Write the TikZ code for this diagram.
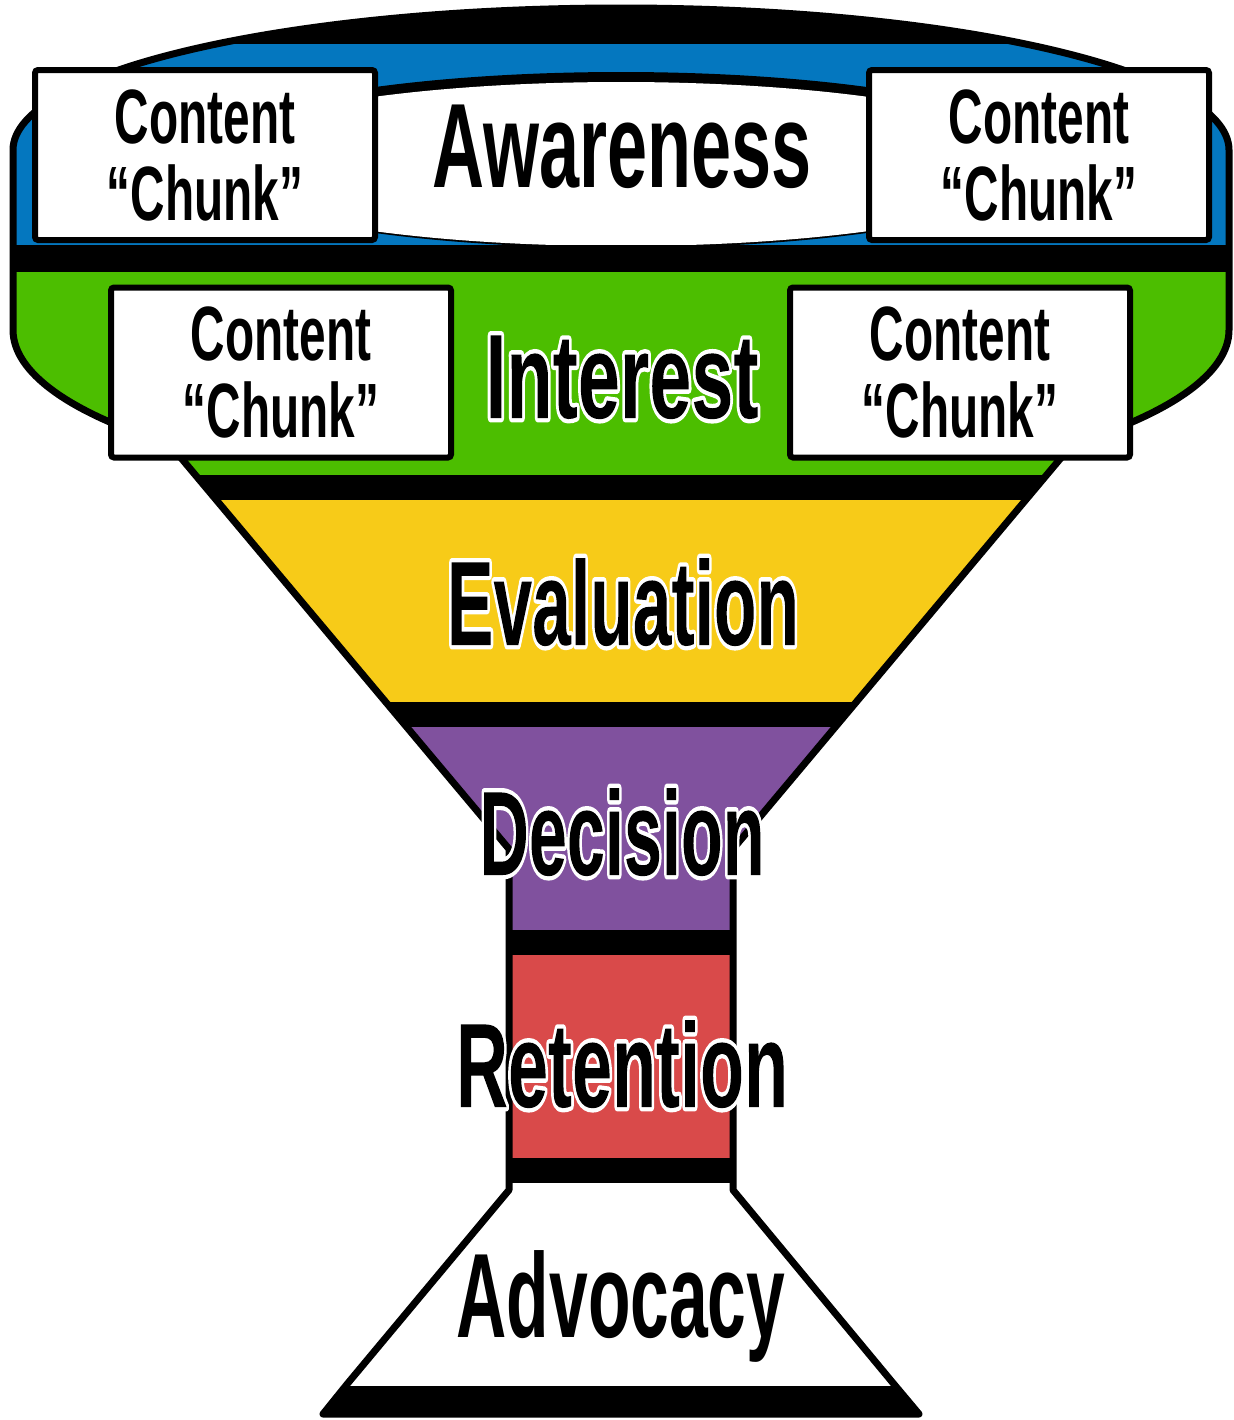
\documentclass[tikz,border=0pt]{standalone}
\usepackage{fontspec}
\setmainfont{Liberation Sans}
\definecolor{awblue}{HTML}{0477BF}
\definecolor{ingreen}{HTML}{4CBE00}
\definecolor{evyellow}{HTML}{F7CB18}
\definecolor{depurple}{HTML}{80519E}
\definecolor{rered}{HTML}{D94A4A}
\tikzset{
  chunkbox/.style={draw=black, line width=3pt, fill=white, rounded corners=1.5pt,
    minimum width=170pt, minimum height=85pt, inner sep=0pt, align=center,
    font=\fontsize{38.5pt}{38.5pt}\selectfont\bfseries},
  stage/.style={anchor=base, inner sep=0pt, font=\fontsize{60pt}{72pt}\selectfont\bfseries},
  rim/.style={line width=3.5pt, line join=round, draw=black}
}
\newcommand\chunktext{\scalebox{0.62}[1]{Content}\\\scalebox{0.62}[1]{“Chunk”}}
% one copy of the text: stroked white and used as a clip (mode 5), then filled black through that clip
\newcommand\stagetext[2]{\scalebox{#1}[1]{\special{pdf:code 5 Tr 1 1 1 RG 4.4 w 1 j}#2\special{x:gsave}\special{x:grestore}\special{pdf:code 0 g -5000 -5000 10000 10000 re f 0 Tr}}}
\newcommand\plainstage[2]{\scalebox{#1}[1]{#2}}
\newcommand\funneloutline{(13,150) arc[start angle=180,end angle=360,x radius=608,y radius=142]
  -- (1229,330) arc[start angle=0,end angle=42,x radius=608,y radius=170]
  -- (733,849) -- (733,1190) -- (893,1383) -- (919,1414) -- (323,1414) -- (348,1383)
  -- (509,1190) -- (509,849) -- (169.2,443.8)
  arc[start angle=138,end angle=180,x radius=608,y radius=170] -- cycle}
\begin{document}
\begin{tikzpicture}[x=0.5pt,y=-0.5pt]
\useasboundingbox (0,0) rectangle (1233,1420);
\fill[white] (0,0) rectangle (1233,1420);
% body
\fill[black] \funneloutline;
\begin{scope}
  \clip \funneloutline;
  \fill[awblue] (0,44) rectangle (1240,245);
  \fill[black] (621,160) ellipse[x radius=440,y radius=88];
  \fill[white] (621,164) ellipse[x radius=430,y radius=82];
  \fill[black] (0,245) rectangle (1240,272);
  \fill[ingreen] (0,272) rectangle (1240,475);
  \fill[evyellow] (0,500) rectangle (1240,702);
  \fill[depurple] (0,727) rectangle (1240,930);
  \fill[rered] (0,955) rectangle (1240,1158);
  \fill[white] (0,1183) rectangle (1240,1386);
\end{scope}
\draw[rim] \funneloutline;
% content chunk boxes
\node[chunkbox] (c1) at (205,155) {\chunktext};
\node[chunkbox] (c2) at (1039,155) {\chunktext};
\node[chunkbox] (c3) at (281,372.5) {\chunktext};
\node[chunkbox] (c4) at (960,372.5) {\chunktext};
% stage labels
\node[stage] (aw) at (622,187) {\plainstage{0.6}{Awareness}};
\node[stage] (in) at (622,418) {\stagetext{0.63}{Interest}};
\node[stage] (ev) at (623,645) {\stagetext{0.58}{Evaluation}};
\node[stage] (de) at (622,875) {\stagetext{0.57}{Decision}};
\node[stage] (re) at (622,1107) {\stagetext{0.6}{Retention}};
\node[stage] (ad) at (621,1337) {\plainstage{0.58}{Advocacy}};
\end{tikzpicture}
\end{document}
